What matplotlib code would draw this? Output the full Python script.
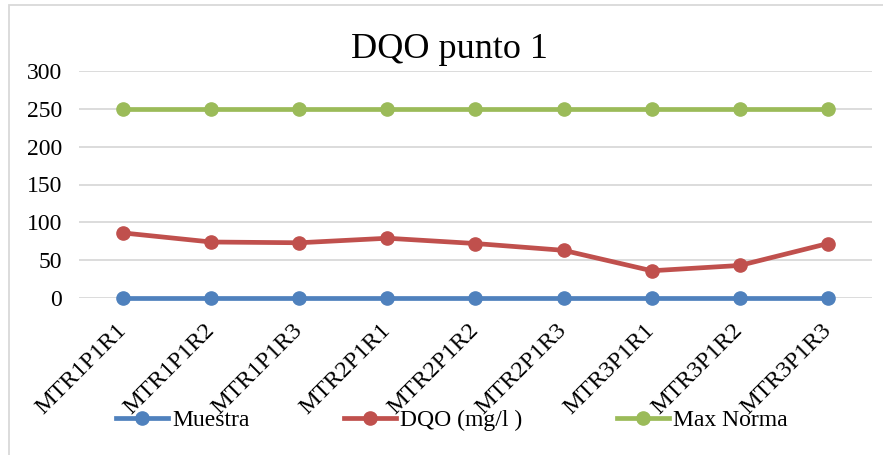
import matplotlib
matplotlib.use("Agg")
import matplotlib.pyplot as plt
from matplotlib.patches import Rectangle
from matplotlib.transforms import ScaledTranslation

categories = ["MTR1P1R1", "MTR1P1R2", "MTR1P1R3", "MTR2P1R1", "MTR2P1R2",
              "MTR2P1R3", "MTR3P1R1", "MTR3P1R2", "MTR3P1R3"]
muestra = [0, 0, 0, 0, 0, 0, 0, 0, 0]
dqo = [86, 74, 73, 79, 72, 63, 36, 43, 72]
max_norma = [250, 250, 250, 250, 250, 250, 250, 250, 250]
yticks = [0, 50, 100, 150, 200, 250, 300]

plt.rcParams["font.family"] = ["Liberation Serif", "DejaVu Serif"]

W, H = 883, 455
fig = plt.figure(figsize=(W / 100, H / 100), dpi=100)
ax = fig.add_axes([79 / W, 1 - 298 / H, (872 - 79) / W, (298 - 71) / H])

# chart frame
fig.patches.append(Rectangle((9 / W, -10 / H), (W + 10) / W, (H + 5) / H,
                             transform=fig.transFigure, fill=False,
                             edgecolor="#d9d9d9", linewidth=1.3))

x = list(range(len(categories)))
style = dict(linewidth=3.4, marker="o", markersize=9.5, clip_on=False, zorder=3)
ax.plot(x, muestra, color="#4f81bd", label="Muestra", **style)
ax.plot(x, dqo, color="#c0504d", label="DQO (mg/l )", **style)
ax.plot(x, max_norma, color="#9bbb59", label="Max Norma", **style)

ax.set_xlim(-0.5, len(categories) - 0.5)
ax.set_ylim(0, 300)
ax.set_yticks(yticks)
ax.set_yticklabels([str(v) for v in yticks], fontsize=17)
ax.set_xticks(x)
ax.tick_params(axis="both", length=0)
ax.tick_params(axis="y", pad=12)
ax.tick_params(axis="x", pad=0)
ax.set_xticklabels(categories, rotation=45, rotation_mode="anchor",
                   ha="right", va="center", fontsize=17.5)
# nudge the slanted category labels below the plot area
shift = ScaledTranslation(0.0, -0.29, fig.dpi_scale_trans)
for lbl in ax.get_xticklabels():
    lbl.set_transform(lbl.get_transform() + shift)
ax.grid(axis="y", color="#d9d9d9", linewidth=1.3)
ax.set_axisbelow(True)
for s in ax.spines.values():
    s.set_visible(False)

fig.text(449 / W, 1 - 50 / H, "DQO punto 1", ha="center", va="center", fontsize=26)

leg = fig.legend(loc="center", bbox_to_anchor=(452 / W, 1 - 420 / H), ncol=3,
                 frameon=False, fontsize=17, handlelength=2.2, handletextpad=0.17,
                 columnspacing=4.0, borderaxespad=0)

fig.savefig("out.png", dpi=100)
